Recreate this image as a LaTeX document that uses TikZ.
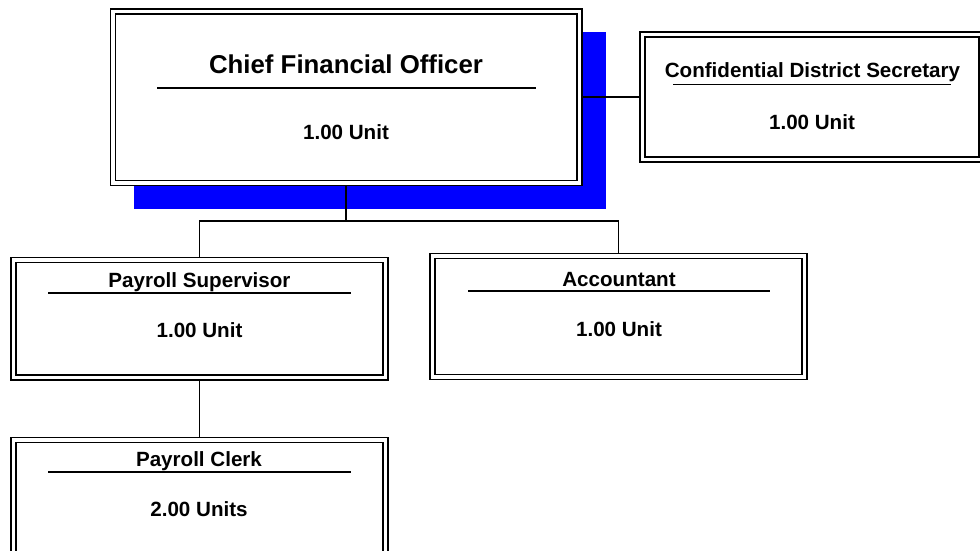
\documentclass[tikz,border=0pt]{standalone}
\usepackage{fontspec}
\setmainfont{Liberation Sans}

\tikzset{
  post/.style 2 args={draw, double, line width=1.8pt, double distance=3.2pt,
    fill=white, inner sep=0pt, outer sep=3.4pt,
    minimum width=#1, minimum height=#2},
  backing/.style={fill=blue, inner sep=0pt, outer sep=0pt,
    minimum width=472, minimum height=177},
  postname/.style={anchor=base, inner sep=0pt,
    font=\bfseries\fontsize{20.6}{24}\selectfont},
  bigname/.style={postname, font=\bfseries\fontsize{25.8}{30}\selectfont},
  rule/.style={line width=1.7pt},
  link/.style={line width=1.7pt}
}

\begin{document}
\begin{tikzpicture}[x=1pt,y=-1pt]
  \useasboundingbox (0,0) rectangle (980,550);
  \clip (0,0) rectangle (980,550);

  % boxes
  \node [backing] (cfoback) at (370,120.5) {};
  \node [post={466.5}{171.5}] (cfo) at (346.25,97.25) {};
  \node [post={339}{125}] (cds) at (812,97.25) {};
  \node [post={372}{117.5}] (ps) at (199.5,318.75) {};
  \node [post={372}{121}] (acc) at (618.5,316.5) {};
  \node [post={372}{121}] (pc) at (199.5,500.5) {};

  % texts and rules
  \node [bigname] (cfoname) at (346,73) {Chief Financial Officer};
  \draw [rule] (157,88) -- (535.5,88);
  \node [postname] (cfounit) at (346,139) {1.00 Unit};

  \node [postname] (cdsname) at (812.5,77) {Confidential District Secretary};
  \draw [rule] (673,84.5) -- (951,84.5);
  \node [postname] (cdsunit) at (812,129.5) {1.00 Unit};

  \node [postname] (psname) at (199.5,287) {Payroll Supervisor};
  \draw [rule] (48,293) -- (351,293);
  \node [postname] (psunit) at (199.5,337) {1.00 Unit};

  \node [postname] (accname) at (619,286) {Accountant};
  \draw [rule] (468,291) -- (770,291);
  \node [postname] (accunit) at (619,336) {1.00 Unit};

  \node [postname] (pcname) at (199,466) {Payroll Clerk};
  \draw [rule] (48,472) -- (351,472);
  \node [postname] (pcunit) at (199,516) {2.00 Units};

  % connectors
  \coordinate (fork) at (cfo.south |- 0,221);
  \draw [link] (cfo.east) -- (cds.west);
  \draw [link] (cfo.south) -- (fork);
  \draw [link] (ps.north) |- (fork) -| (acc.north);
  \draw [link] (ps.south) -- (pc.north);
\end{tikzpicture}
\end{document}
